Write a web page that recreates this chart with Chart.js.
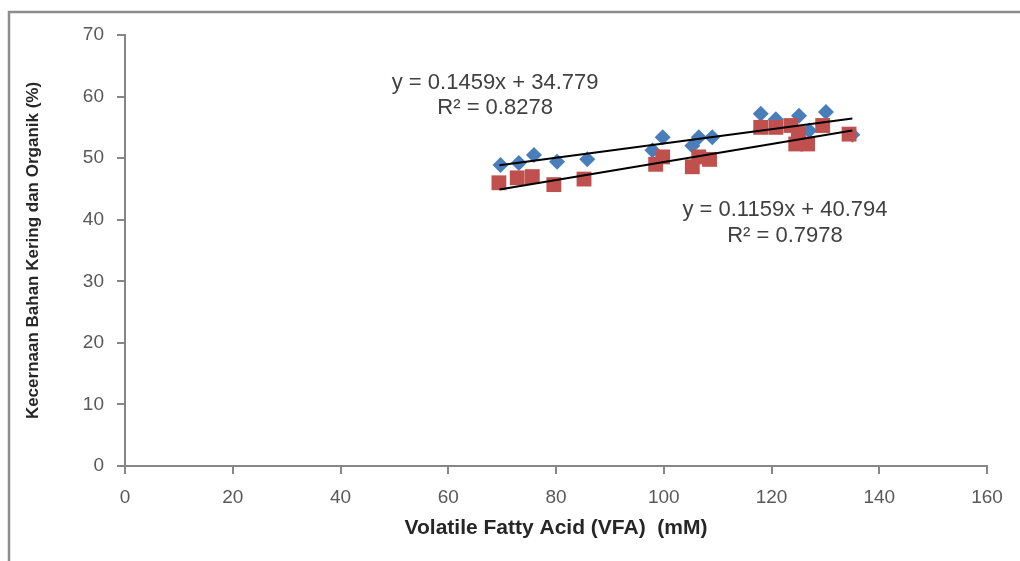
<!DOCTYPE html>
<html>
<head>
<meta charset="utf-8">
<style>
  html, body { margin: 0; padding: 0; background: #fff; }
  #wrap { width: 1020px; height: 561px; }
</style>
<script src="https://cdn.jsdelivr.net/npm/chart.js@4"></script>
</head>
<body>
<div id="wrap"><canvas id="myChart" width="1020" height="561"></canvas></div>
<script>
// data
const bkX = [69.7, 73.1, 75.9, 80.2, 85.8, 97.9, 99.8, 105.3, 106.5, 109.0, 118.0, 120.8, 125.1, 127.0, 130.1, 135.0];
const bkY = [48.9, 49.2, 50.5, 49.4, 49.8, 51.3, 53.4, 52.0, 53.4, 53.4, 57.2, 56.3, 56.9, 54.5, 57.5, 53.8];

const boX = [69.4, 72.8, 75.6, 79.6, 85.2, 98.5, 99.8, 105.3, 106.5, 108.5, 118.0, 120.8, 123.6, 124.5, 125.0, 126.7, 129.5, 134.4];
const boY = [46.0, 46.8, 47.0, 45.7, 46.6, 49.0, 50.2, 48.6, 50.2, 49.8, 55.0, 55.0, 55.3, 52.3, 54.0, 52.3, 55.3, 53.9];

// trendline coefficients [slope, intercept] as printed on the chart
const trendUpper = [0.1159, 40.794];
const trendLower = [0.1459, 34.779];
const trendRange = [69.5, 135];

const eqLabels = [
  { text: "y = 0.1459x + 34.779", x: 68.7, y: 62.2 },
  { text: "R\u00B2 = 0.8278", x: 68.7, y: 58.1 },
  { text: "y = 0.1159x + 40.794", x: 122.5, y: 41.6 },
  { text: "R\u00B2 = 0.7978", x: 122.5, y: 37.4 },
];

const xTicksMax = 160;
const yTicksMax = 70;

function trendPoints(c) {
  return trendRange.map((x) => ({ x: x, y: c[0] * x + c[1] }));
}

function toPoints(xs, ys) {
  return xs.map((x, i) => ({ x: x, y: ys[i] }));
}

const axisColor = "#868686";
const tickColor = "#595959";
const font = "'Liberation Sans', Arial, sans-serif";

// background + frame line (left and top edges of the original border)
const framePlugin = {
  id: "frame",
  beforeDraw(chart) {
    const ctx = chart.ctx;
    ctx.save();
    ctx.fillStyle = "#fff";
    ctx.fillRect(0, 0, chart.width, chart.height);
    ctx.strokeStyle = "#8c8c8c";
    ctx.lineWidth = 2.5;
    ctx.beginPath();
    ctx.moveTo(9, chart.height);
    ctx.lineTo(9, 12);
    ctx.lineTo(chart.width, 12);
    ctx.stroke();
    ctx.restore();
  },
};

// regression equation labels
const eqPlugin = {
  id: "eq",
  afterDraw(chart) {
    const ctx = chart.ctx;
    const sx = chart.scales.x;
    const sy = chart.scales.y;
    ctx.save();
    ctx.fillStyle = "#404040";
    ctx.font = "22px " + font;
    ctx.textAlign = "center";
    ctx.textBaseline = "middle";
    eqLabels.forEach((l) => {
      ctx.fillText(l.text, sx.getPixelForValue(l.x), sy.getPixelForValue(l.y));
    });
    ctx.restore();
  },
};

const ctx = document.getElementById("myChart").getContext("2d");

new Chart(ctx, {
  type: "scatter",
  data: {
    datasets: [
      {
        type: "line",
        data: trendPoints(trendUpper),
        borderColor: "#000",
        borderWidth: 2,
        pointRadius: 0,
        fill: false,
      },
      {
        type: "line",
        data: trendPoints(trendLower),
        borderColor: "#000",
        borderWidth: 2,
        pointRadius: 0,
        fill: false,
      },
      {
        data: toPoints(boX, boY),
        pointStyle: "rect",
        pointRadius: 10.5,
        backgroundColor: "#c0504d",
        borderColor: "#c0504d",
        borderWidth: 0,
      },
      {
        data: toPoints(bkX, bkY),
        pointStyle: "rectRot",
        pointRadius: 8,
        backgroundColor: "#4a7ebb",
        borderColor: "#4a7ebb",
        borderWidth: 0,
      },
    ],
  },
  options: {
    responsive: false,
    animation: false,
    devicePixelRatio: 1,
    layout: { padding: { top: 35, right: 33, left: 0, bottom: 0 } },
    plugins: {
      legend: { display: false },
      tooltip: { enabled: false },
    },
    scales: {
      x: {
        type: "linear",
        min: 0,
        max: xTicksMax,
        afterFit: (s) => { s.height = 95; },
        ticks: { stepSize: 20, color: tickColor, font: { family: font, size: 19 }, padding: 12 },
        grid: { drawOnChartArea: false, tickLength: 8, color: axisColor, lineWidth: 2 },
        border: { color: axisColor, width: 2 },
        title: {
          display: true,
          text: "Volatile Fatty Acid (VFA)  (mM)",
          color: "#262626",
          font: { family: font, size: 21, weight: "bold" },
          padding: { top: 0, bottom: 20 },
        },
      },
      y: {
        min: 0,
        max: yTicksMax,
        afterFit: (s) => { s.width = 125; },
        ticks: { stepSize: 10, color: tickColor, font: { family: font, size: 19 }, padding: 13 },
        grid: { drawOnChartArea: false, tickLength: 8, color: axisColor, lineWidth: 2 },
        border: { color: axisColor, width: 2 },
        title: {
          display: true,
          text: "Kecernaan Bahan Kering dan Organik (%)",
          color: "#262626",
          font: { family: font, size: 17, weight: "bold" },
          padding: { top: 23, bottom: 0 },
        },
      },
    },
  },
  plugins: [framePlugin, eqPlugin],
});
</script>
</body>
</html>
